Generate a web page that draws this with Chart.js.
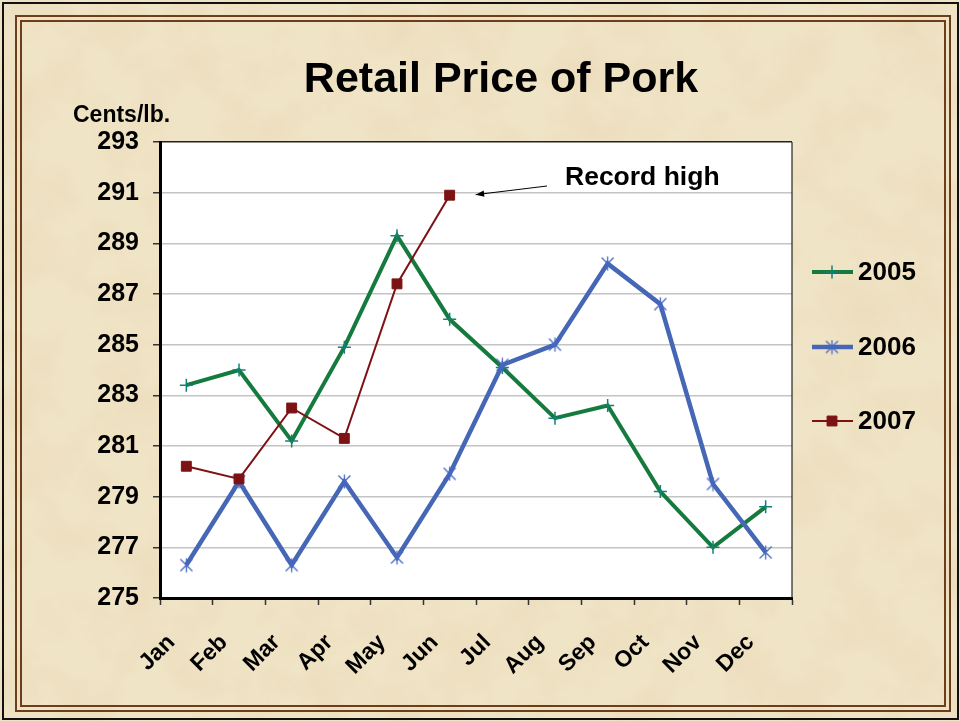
<!DOCTYPE html>
<html>
<head>
<meta charset="utf-8">
<script src="https://cdn.jsdelivr.net/npm/chart.js@4.4.1/dist/chart.umd.min.js"></script>
<style>
  html, body { margin: 0; padding: 0; }
  body {
    width: 960px; height: 721px; position: relative; overflow: hidden;
    background-color: #f0e4c6;
    background-image:
      url("data:image/svg+xml;utf8,<svg xmlns='http://www.w3.org/2000/svg' width='960' height='721'><filter id='n'><feTurbulence type='fractalNoise' baseFrequency='0.018' numOctaves='4' seed='7'/><feColorMatrix type='matrix' values='0 0 0 0 0.80  0 0 0 0 0.67  0 0 0 0 0.45  1.1 0 0 0 -0.45'/></filter><rect width='100%' height='100%' filter='url(%23n)'/></svg>");
  }
  .outer { position: absolute; left: 2px; top: 2px; right: 1px; bottom: 1px; border: 2px solid #111; }
  .frame { position: absolute; left: 15px; top: 15px; width: 936px; height: 697px;
           border: 2px solid #6b3f1c; box-sizing: border-box; }
  .frame::after { content: ''; position: absolute; left: 3px; top: 3px; right: 3px; bottom: 3px;
                  border: 2px solid #6b3f1c; }
  canvas { position: absolute; left: 0; top: 0; }
</style>
</head>
<body>
<div class="outer"></div>
<div class="frame"></div>
<canvas id="chart" width="960" height="721"></canvas>
<script>
const months = ['Jan', 'Feb', 'Mar', 'Apr', 'May', 'Jun', 'Jul', 'Aug', 'Sep', 'Oct', 'Nov', 'Dec'];
const price2005 = [283.4, 284.0, 281.2, 284.9, 289.3, 286.0, 284.1, 282.1, 282.6, 279.2, 277.0, 278.6];
const price2006 = [276.3, 279.6, 276.3, 279.6, 276.6, 279.9, 284.2, 285.0, 288.2, 286.6, 279.5, 276.8];
const price2007 = [280.2, 279.7, 282.5, 281.3, 287.4, 290.9];
const yTicks = { min: 275, max: 293, step: 2 };
const titleText = 'Retail Price of Pork';
const unitText = 'Cents/lb.';
const noteText = 'Record high';

const FONT = 'Arial, "Liberation Sans", sans-serif';

// Excel style "star" marker: an X with a vertical stroke
function starMarker(color) {
    const c = document.createElement('canvas');
    c.width = 15; c.height = 15;
    const g = c.getContext('2d');
    g.strokeStyle = color;
    g.lineWidth = 1.3;
    g.beginPath();
    g.moveTo(1.5, 1.5); g.lineTo(13.5, 13.5);
    g.moveTo(13.5, 1.5); g.lineTo(1.5, 13.5);
    g.moveTo(7.5, 0.5); g.lineTo(7.5, 14.5);
    g.stroke();
    return c;
}

const plotFrame = {
    id: 'plotFrame',
    beforeDraw(chart) {
        const { ctx, chartArea: a } = chart;
        ctx.save();
        ctx.fillStyle = '#ffffff';
        ctx.fillRect(a.left, a.top, a.right - a.left, a.bottom - a.top);
        ctx.restore();
    },
    afterDraw(chart) {
        const { ctx, chartArea: a } = chart;
        ctx.save();
        // right edge of plot
        ctx.strokeStyle = '#222';
        ctx.lineWidth = 1.2;
        ctx.beginPath();
        ctx.moveTo(a.right, a.top);
        ctx.lineTo(a.right, a.bottom);
        ctx.stroke();

        // title and unit label
        ctx.fillStyle = '#000';
        ctx.textBaseline = 'alphabetic';
        ctx.textAlign = 'center';
        ctx.font = 'bold 43px ' + FONT;
        ctx.fillText(titleText, 501, 92);
        ctx.textAlign = 'left';
        ctx.font = 'bold 23px ' + FONT;
        ctx.fillText(unitText, 73, 122);

        // note with arrow pointing at the last 2007 point
        const meta = chart.getDatasetMeta(2);
        const last = meta.data[meta.data.length - 1];
        ctx.font = 'bold 26.5px ' + FONT;
        ctx.fillText(noteText, 565, 185);
        const x0 = 547, y0 = 186;
        const x1 = last.x + 26, y1 = last.y - 0.5;
        ctx.strokeStyle = '#000';
        ctx.lineWidth = 1;
        ctx.beginPath();
        ctx.moveTo(x0, y0);
        ctx.lineTo(x1, y1);
        ctx.stroke();
        const ang = Math.atan2(y1 - y0, x1 - x0);
        ctx.beginPath();
        ctx.moveTo(x1, y1);
        ctx.lineTo(x1 - 9 * Math.cos(ang - 0.35), y1 - 9 * Math.sin(ang - 0.35));
        ctx.lineTo(x1 - 9 * Math.cos(ang + 0.35), y1 - 9 * Math.sin(ang + 0.35));
        ctx.closePath();
        ctx.fillStyle = '#000';
        ctx.fill();

        // legend
        const rows = [272, 347, 421];
        chart.data.datasets.forEach((ds, i) => {
            const y = rows[i];
            ctx.strokeStyle = ds.borderColor;
            ctx.lineWidth = ds.borderWidth;
            ctx.beginPath();
            ctx.moveTo(812, y);
            ctx.lineTo(853, y);
            ctx.stroke();
            ctx.strokeStyle = ds.pointBorderColor;
            ctx.fillStyle = ds.pointBackgroundColor;
            ctx.lineWidth = ds.pointBorderWidth;
            Chart.helpers.drawPoint(ctx, {
                pointStyle: ds.pointStyle,
                radius: ds.pointRadius,
                rotation: 0,
                borderWidth: ds.pointBorderWidth
            }, 832, y);
            ctx.fillStyle = '#000';
            ctx.font = 'bold 26px ' + FONT;
            ctx.textAlign = 'left';
            ctx.textBaseline = 'middle';
            ctx.fillText(ds.label, 858, y + 1);
        });
        ctx.restore();
    }
};

const data = {
    labels: months,
    datasets: [
        {
            label: '2005',
            data: price2005,
            borderColor: '#157a3d',
            borderWidth: 4,
            pointStyle: 'cross',
            pointRadius: 6.5,
            pointBorderColor: '#12807a',
            pointBackgroundColor: '#12807a',
            pointBorderWidth: 1.5,
            order: 3
        },
        {
            label: '2006',
            data: price2006,
            borderColor: '#4667b5',
            borderWidth: 4.5,
            pointStyle: starMarker('#4667c0'),
            pointRadius: 7,
            pointBorderColor: '#4667c0',
            pointBackgroundColor: '#4667c0',
            pointBorderWidth: 1.3,
            order: 2
        },
        {
            label: '2007',
            data: price2007,
            borderColor: '#7d1214',
            borderWidth: 2,
            pointStyle: 'rect',
            pointRadius: 7,
            pointBorderColor: '#7d1214',
            pointBackgroundColor: '#7d1214',
            pointBorderWidth: 1,
            order: 1
        }
    ]
};

const config = {
    type: 'line',
    data: data,
    options: {
        responsive: false,
        animation: false,
        events: [],
        tension: 0,
        layout: {
            autoPadding: false,
            padding: { left: 0, top: 142, right: 168, bottom: 40 }
        },
        scales: {
            x: {
                offset: true,
                grid: {
                    offset: true,
                    drawOnChartArea: false,
                    tickLength: 7,
                    tickColor: '#333',
                    tickWidth: 1.5
                },
                border: { display: true, color: '#000', width: 3 },
                ticks: {
                    autoSkip: false,
                    minRotation: 45,
                    maxRotation: 45,
                    padding: 24,
                    labelOffset: -15,
                    color: '#000',
                    font: { family: FONT, size: 23, weight: 'bold' }
                },
                afterFit: (scale) => { scale.height = 83; }
            },
            y: {
                min: yTicks.min,
                max: yTicks.max,
                grid: {
                    color: (ctx) => ctx.tick && ctx.tick.value === yTicks.max ? '#222' : '#c4c4c4',
                    lineWidth: 1.5,
                    tickLength: 7,
                    tickColor: '#333',
                    tickWidth: 1.5
                },
                border: { display: true, color: '#000', width: 3 },
                ticks: {
                    stepSize: yTicks.step,
                    padding: 14,
                    color: '#000',
                    font: { family: FONT, size: 25, weight: 'bold' }
                },
                afterFit: (scale) => { scale.width = 160; }
            }
        },
        plugins: {
            legend: { display: false },
            title: { display: false },
            tooltip: { enabled: false }
        }
    },
    plugins: [plotFrame]
};

new Chart(document.getElementById('chart'), config);
</script>
</body>
</html>
